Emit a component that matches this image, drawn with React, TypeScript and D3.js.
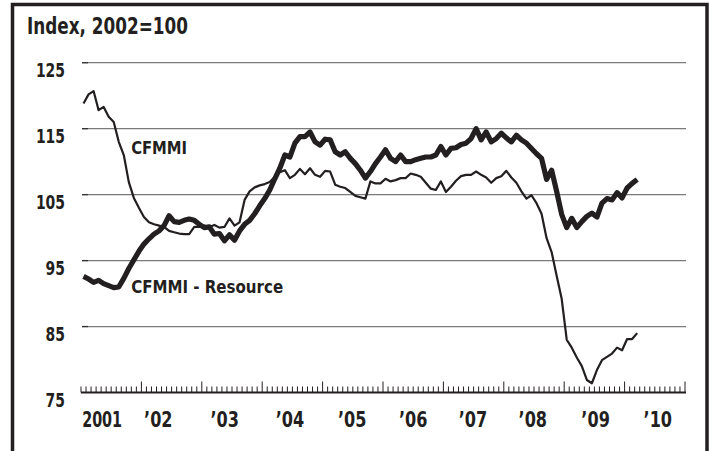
import React from 'react'
import * as d3 from 'd3'

// monthly values, Jan 2001 .. Mar 2010
const cfmmi = [
  118.8, 120.2, 120.7, 117.8, 118.3, 116.8, 116.0, 113.0, 111.0, 106.9, 104.5, 103.0,
  101.6, 100.8, 100.5, 100.3, 100.1, 99.5, 99.3, 99.1, 99.0, 99.0, 100.1, 100.1,
  100.3, 100.1, 100.4, 100.0, 100.1, 101.4, 100.3, 100.8, 104.2, 105.5, 106.1, 106.4,
  106.6, 106.9, 107.7, 108.4, 108.7, 107.5, 108.0, 108.9, 108.1, 109.0, 108.0, 107.7,
  108.6, 108.5, 106.5, 106.2, 106.0, 105.4, 104.8, 104.6, 104.4, 107.0, 106.7, 106.7,
  107.4, 107.0, 107.2, 107.5, 107.5, 108.2, 108.0, 107.7, 106.8, 105.9, 105.7, 107.0,
  105.4, 106.2, 107.1, 107.8, 108.0, 108.0, 108.5, 108.0, 107.6, 106.8, 107.5, 107.8,
  108.6, 107.6, 106.8, 105.5, 104.4, 104.9, 103.7, 102.1, 98.4, 96.3, 92.7, 89.2,
  83.0, 81.8, 80.3, 79.0, 76.9, 76.4, 78.4, 79.9, 80.4, 80.9, 81.8, 81.4,
  83.1, 83.1, 84.0,
]

const cfmmiResource = [
  92.6, 92.2, 91.7, 92.0, 91.5, 91.2, 90.9, 91.0, 92.3, 93.8, 95.1, 96.4,
  97.5, 98.3, 99.0, 99.5, 100.3, 101.8, 100.9, 100.8, 101.1, 101.3, 101.1, 100.5,
  100.0, 100.1, 99.0, 99.1, 98.0, 98.9, 98.1, 99.5, 100.5, 101.1, 102.1, 103.3,
  104.4, 105.7, 107.4, 109.0, 111.0, 110.7, 112.8, 113.8, 113.8, 114.5, 113.0, 112.5,
  113.4, 113.3, 111.5, 111.0, 111.5, 110.5, 109.7, 108.7, 107.5, 108.5, 109.7, 110.7,
  111.8, 110.5, 110.0, 111.0, 110.0, 110.0, 110.3, 110.5, 110.7, 110.7, 111.0, 112.3,
  111.0, 112.0, 112.1, 112.6, 112.8, 113.5, 115.0, 113.3, 114.5, 113.0, 113.5, 114.3,
  113.6, 113.0, 114.0, 113.3, 112.8, 112.0, 111.2, 110.5, 107.3, 108.7, 105.5, 102.0,
  100.0, 101.4, 100.0, 100.9, 101.7, 102.2, 101.6, 103.7, 104.4, 104.2, 105.3, 104.5,
  106.0, 106.7, 107.3,
]

const startYear = 2001
const endYear = 2011
const yTicks = [75, 85, 95, 105, 115, 125]
const yearLabels = ['2001', "\u201902", "\u201903", "\u201904", "\u201905", "\u201906", "\u201907", "\u201908", "\u201909", "\u201910"]
// label centres (fractional year), hand placed on the original
const yearLabelAt = [2001.35, 2002.28, 2003.38, 2004.46, 2005.49, 2006.5, 2007.49, 2008.48, 2009.52, 2010.55]

const W = 711
const H = 451
const INK = '#231f20'
const FONT = '"DejaVu Sans Condensed", "Liberation Sans Narrow", sans-serif'

// rough condensed-bold widths so text matches the narrow face of the original
const labelWidth = (s: string, digit: number) =>
  s.split('').reduce((w, c) => w + (/[0-9]/.test(c) ? digit : digit * 0.85), 0)

export default function App() {
  const x = d3.scaleLinear().domain([startYear, endYear]).range([81, 685])
  const y = d3.scaleLinear().domain([75, 125]).range([392.5, 62.7])

  const monthT = (i: number) => startYear + (i + 0.5) / 12
  const line = d3.line<number>()
    .x((_, i) => x(monthT(i)))
    .y(d => y(d))
    .curve(d3.curveLinear)

  const months = d3.range(0, (endYear - startYear) * 12 + 1)

  return (
    <svg width={W} height={H} style={{ position: 'absolute', left: 0, top: 0, background: '#fff' }}>
      <rect x={12.5} y={4.5} width={694.5} height={470} fill="none" stroke={INK} strokeWidth={3.5} />

      <text x={27} y={34} fontFamily={FONT} fontWeight="bold" fontSize={23} fill={INK}
        textLength={161} lengthAdjust="spacingAndGlyphs">Index, 2002=100</text>

      {/* grid */}
      {yTicks.slice(1).map(v => (
        <g key={v}>
          <line x1={82} x2={686} y1={y(v)} y2={y(v)} stroke="#7a7a7a" strokeWidth={1.3} />
          <line x1={82} x2={88} y1={y(v)} y2={y(v)} stroke="#333" strokeWidth={1.3} />
        </g>
      ))}
      {yTicks.map(v => {
        const tl = labelWidth(String(v), 9.7)
        return (
          <text key={'l' + v} x={65 - tl} y={y(v) + 14.5} fontFamily={FONT} fontWeight="bold" fontSize={19.5} fill={INK}
            textLength={tl} lengthAdjust="spacingAndGlyphs">{v}</text>
        )
      })}

      {/* x axis */}
      <line x1={81} x2={686} y1={y(75)} y2={y(75)} stroke={INK} strokeWidth={2} />
      {months.map(m => {
        const major = m % 12 === 0 && m > 0
        const xx = x(startYear + m / 12)
        return <line key={'t' + m} x1={xx} x2={xx} y1={y(75)} y2={y(75) - (major ? 11 : 6)} stroke={INK} strokeWidth={1} />
      })}
      {yearLabels.map((l, i) => {
        const tl = labelWidth(l, 10)
        return (
          <text key={l} x={x(yearLabelAt[i]) - tl / 2} y={427} fontFamily={FONT} fontWeight="bold" fontSize={20.5} fill={INK}
            textLength={tl} lengthAdjust="spacingAndGlyphs">{l}</text>
        )
      })}

      {/* series */}
      <path d={line(cfmmiResource) ?? ''} fill="none" stroke={INK} strokeWidth={5.2} strokeLinejoin="round" />
      <path d={line(cfmmi) ?? ''} fill="none" stroke={INK} strokeWidth={2.2} strokeLinejoin="round" />

      <text x={x(2001.83)} y={y(111.2)} fontFamily={FONT} fontWeight="bold" fontSize={18} fill={INK}
        textLength={56} lengthAdjust="spacingAndGlyphs">CFMMI</text>
      <text x={x(2001.83)} y={y(90.1)} fontFamily={FONT} fontWeight="bold" fontSize={18} fill={INK}
        textLength={152} lengthAdjust="spacingAndGlyphs">CFMMI - Resource</text>
    </svg>
  )
}
